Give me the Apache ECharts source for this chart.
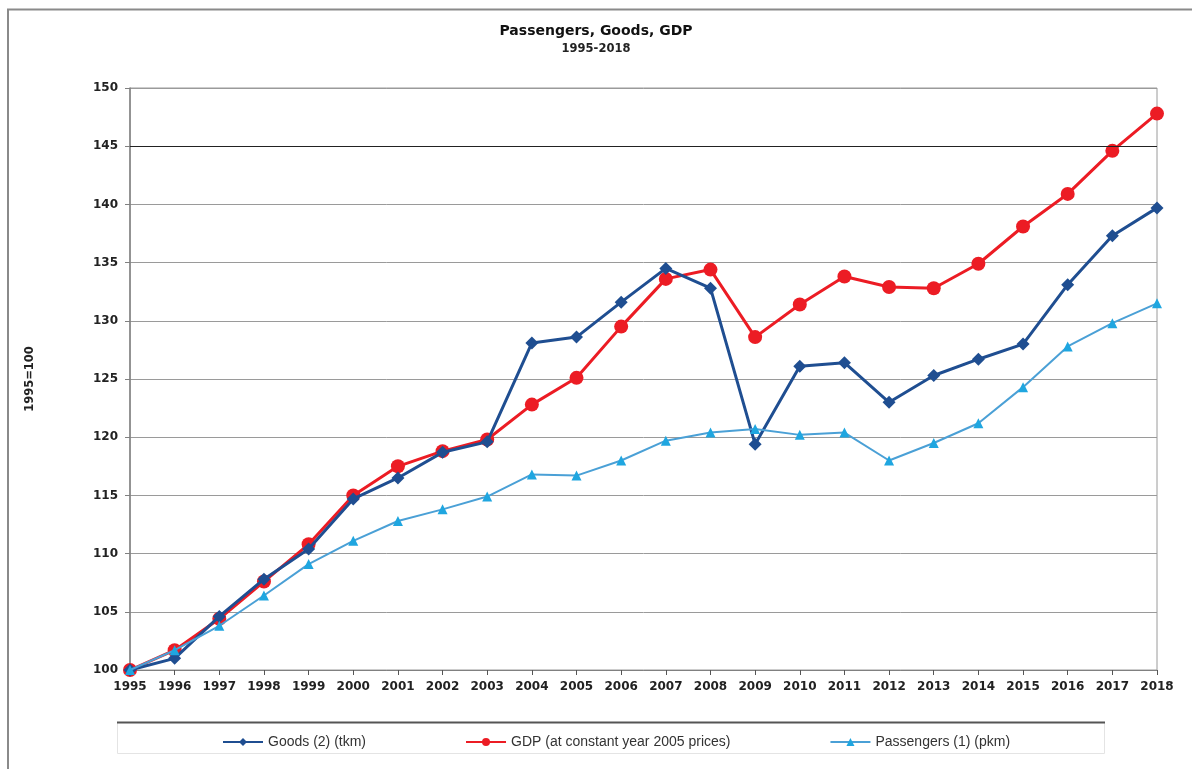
<!DOCTYPE html>
<html>
<head>
<meta charset="utf-8">
<script src="https://cdn.jsdelivr.net/npm/echarts@6/dist/echarts.min.js"></script>
<style>
  html, body { margin: 0; padding: 0; background: #fff; }
</style>
</head>
<body>
<div id="chart" style="width: 1192px; height: 769px;"></div>
<script>
// data (1995=100)
const years = ['1995', '1996', '1997', '1998', '1999', '2000', '2001', '2002', '2003', '2004', '2005', '2006',
  '2007', '2008', '2009', '2010', '2011', '2012', '2013', '2014', '2015', '2016', '2017', '2018'];
const goods = [100, 101.0, 104.6, 107.8, 110.4, 114.7, 116.5, 118.7, 119.6, 128.1, 128.6, 131.6,
  134.5, 132.8, 119.4, 126.1, 126.4, 123.0, 125.3, 126.7, 128.0, 133.1, 137.3, 139.7];
const gdp = [100, 101.7, 104.4, 107.6, 110.8, 115.0, 117.5, 118.8, 119.8, 122.8, 125.1, 129.5,
  133.6, 134.4, 128.6, 131.4, 133.8, 132.9, 132.8, 134.9, 138.1, 140.9, 144.6, 147.8];
const passengers = [100, 101.7, 103.8, 106.4, 109.1, 111.1, 112.8, 113.8, 114.9, 116.8, 116.7, 118.0,
  119.7, 120.4, 120.7, 120.2, 120.4, 118.0, 119.5, 121.2, 124.3, 127.8, 129.8, 131.5];
const seriesNames = ['Goods (2) (tkm)', 'GDP (at constant year 2005 prices)', 'Passengers (1) (pkm)'];

const chart = echarts.init(document.getElementById('chart'));

const boldFont = '"DejaVu Sans", Verdana, sans-serif';
const font = 'Arial, "Liberation Sans", sans-serif';

let option = {
  backgroundColor: '#fff',
  animation: false,
  textStyle: { fontFamily: font },
  title: {
    text: 'Passengers, Goods, GDP',
    subtext: '1995-2018',
    left: 'center',
    top: 19,
    itemGap: 5,
    textStyle: { fontSize: 14, fontWeight: 'bold', color: '#111', fontFamily: boldFont },
    subtextStyle: { fontSize: 11.5, fontWeight: 'bold', color: '#222', fontFamily: boldFont }
  },
  graphic: [
    // outer frame
    {
      type: 'polyline',
      shape: { points: [[8, 780], [8, 9.5], [1200, 9.5]] },
      style: { stroke: '#8a8a8a', lineWidth: 2, fill: null },
      silent: true
    },
    // legend box
    {
      type: 'rect',
      shape: { x: 117.5, y: 722.5, width: 987, height: 31 },
      style: { stroke: '#e4e4e4', lineWidth: 1, fill: '#fff' },
      z: 0,
      silent: true
    },
    {
      type: 'line',
      shape: { x1: 117, y1: 722.5, x2: 1105, y2: 722.5 },
      style: { stroke: '#555', lineWidth: 2 },
      z: 1,
      silent: true
    }
  ],
  legend: {
    data: seriesNames,
    left: 217,
    top: 730,
    itemGap: 99,
    itemWidth: 40,
    itemHeight: 10,
    textStyle: { fontSize: 14, color: '#333', fontFamily: font }
  },
  grid: {
    left: 130,
    right: 35,
    top: 88,
    bottom: 99,
    show: true,
    borderColor: '#9a9a9a',
    borderWidth: 1
  },
  xAxis: {
    type: 'category',
    data: years,
    boundaryGap: false,
    axisLine: { lineStyle: { color: '#808080', width: 1 } },
    axisTick: { show: true, alignWithLabel: true, length: 5, lineStyle: { color: '#555' } },
    axisLabel: { color: '#222', fontWeight: 'bold', fontSize: 12, margin: 11, interval: 0, fontFamily: boldFont },
    splitLine: { show: false }
  },
  yAxis: {
    type: 'value',
    min: 100,
    max: 150,
    interval: 5,
    name: '1995=100',
    nameLocation: 'middle',
    nameGap: 94,
    nameTextStyle: { fontSize: 11.5, fontWeight: 'bold', color: '#222', fontFamily: boldFont },
    axisLine: { show: true, lineStyle: { color: '#808080', width: 1.5 } },
    axisTick: { show: true, length: 5, lineStyle: { color: '#808080' } },
    axisLabel: { color: '#222', fontWeight: 'bold', fontSize: 12, margin: 12, fontFamily: boldFont },
    splitLine: { lineStyle: { color: '#9a9a9a', width: 1 } }
  },
  series: [
    {
      name: seriesNames[0],
      type: 'line',
      data: goods,
      symbol: 'diamond',
      symbolSize: 13,
      color: '#1f4e91',
      lineStyle: { width: 3, color: '#1f4e91' },
      itemStyle: { color: '#1f4e91' },
      z: 3
    },
    {
      name: seriesNames[1],
      type: 'line',
      data: gdp,
      symbol: 'circle',
      symbolSize: 14,
      color: '#ec1c24',
      lineStyle: { width: 3, color: '#ec1c24' },
      itemStyle: { color: '#ec1c24' },
      z: 2,
      markLine: {
        silent: true,
        symbol: 'none',
        label: { show: false },
        lineStyle: { color: '#222', type: 'solid', width: 1.2 },
        data: [{ yAxis: 145 }]
      }
    },
    {
      name: seriesNames[2],
      type: 'line',
      data: passengers,
      symbol: 'triangle',
      symbolSize: 10,
      color: '#2fa3dc',
      lineStyle: { width: 2, color: '#4aa0d6' },
      itemStyle: { color: '#1fa6e0' },
      z: 4
    }
  ]
};

chart.setOption(option);
</script>
</body>
</html>
